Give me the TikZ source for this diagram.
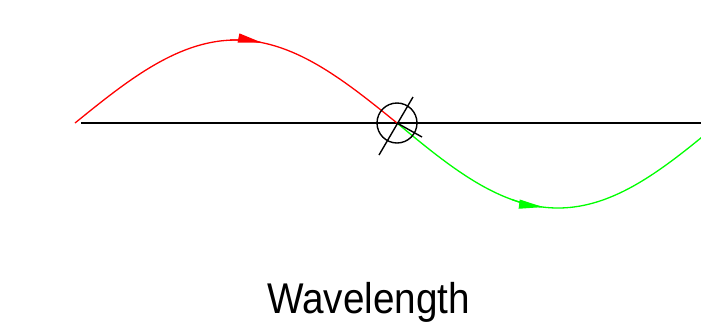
\documentclass[tikz,border=0pt]{standalone}
\usepackage{fontspec}
\setmainfont{Liberation Sans}
\usetikzlibrary{arrows.meta}
\definecolor{wavered}{RGB}{255,0,0}
\definecolor{wavegreen}{RGB}{0,255,0}
\tikzset{
  axisline/.style={black, line width=1.4pt},
  redwave/.style={wavered, line width=1.3pt},
  greenwave/.style={wavegreen, line width=1.3pt},
  tipred/.style={wavered, line width=1.3pt, -{Triangle[length=24pt,width=9pt]}},
  tipgreen/.style={wavegreen, line width=1.3pt, -{Triangle[length=24pt,width=9pt]}},
  marker/.style={black, line width=1.4pt},
}
\begin{document}
\begin{tikzpicture}[x=1pt,y=-1pt]
\useasboundingbox (0,0) rectangle (701,325);
\clip (0,0) rectangle (701,325);
\coordinate (L) at (81,123);
\coordinate (R) at (701,123);
\coordinate (C) at (397,123);
\draw[axisline] (L) -- (R);
\draw[redwave] plot[domain=75:397, samples=120, smooth] (\x, {123 - 83*sin((\x-75)/322*180)});
\draw[greenwave] plot[domain=397:705, samples=120, smooth] (\x, {123 + 85*sin((\x-397)/322*180)});
\draw[tipred] plot[domain=230:262, samples=20, smooth] (\x, {123 - 83*sin((\x-75)/322*180)});
\draw[tipgreen] plot[domain=512:543, samples=20, smooth] (\x, {123 + 85*sin((\x-397)/322*180)});
\node[marker, draw, circle, minimum size=40pt, inner sep=0pt] (ring) at (C) {};
\coordinate (s1) at (379,155);
\coordinate (s2) at (413,97);
\draw[marker] (s1) -- (s2);
\coordinate (t) at (422,137);
\draw[marker] (C) -- (t);
\node[font=\fontsize{43}{50}\selectfont, xscale=0.9, anchor=base, inner sep=0pt] (label) at (368.5,313) {Wavelength};
\end{tikzpicture}
\end{document}
